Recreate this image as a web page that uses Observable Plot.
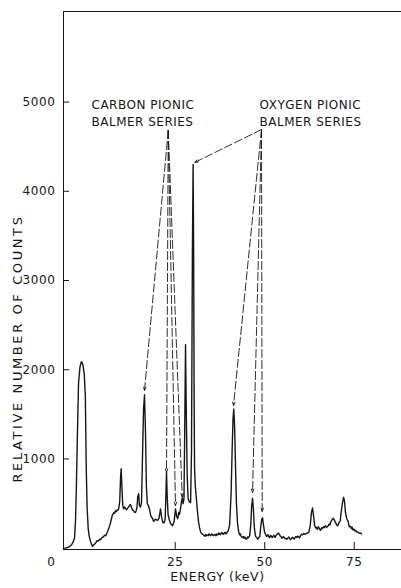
<!DOCTYPE html>
<html><head><meta charset="utf-8">
<script src="https://cdn.jsdelivr.net/npm/d3@7"></script>
<script src="https://cdn.jsdelivr.net/npm/@observablehq/plot@0.6"></script>
<style>
html,body{margin:0;padding:0;background:#fff;}
#chart svg{display:block;}
#chart [aria-label="y-axis tick label"] text,
#chart [aria-label="x-axis tick label"] text{letter-spacing:0.6px;}
#chart .series-label text{letter-spacing:0.5px;}
#chart .ytitle text{letter-spacing:2.6px;}
#chart .xtitle text{letter-spacing:0.6px;}
</style></head><body><div id="chart"></div>
<script>
// Spectrum: energy (keV) and relative number of counts
const energy = [
-6.2,-5.5,-5.0,-4.5,-4.0,-3.5,-3.1,-2.85,-2.6,-2.3,-2.0,-1.6,-1.2,-0.8,-0.4,-0.1,0.15,0.4,0.7,1.0,1.4,1.9,
2.2,2.5,2.8,3.2,3.5,3.9,4.2,4.6,4.9,5.3,5.6,6.0,6.5,6.93,7.2,7.4,7.9,8.1,8.3,8.6,8.8,9.0,9.2,9.5,9.75,9.9,10.1,10.35,10.6,10.85,11.1,11.35,11.6,11.85,12.1,12.5,12.9,13.1,13.35,13.6,13.9,14.1,14.3,14.55,14.8,15.0,15.3,15.6,15.85,16.15,16.42,16.7,16.95,17.2,17.55,17.9,18.2,18.45,18.7,18.95,19.2,19.45,19.7,20.1,20.5,20.9,21.2,21.5,21.9,22.2,22.4,22.57,22.75,23.0,23.2,23.4,23.6,23.8,24.0,24.25,24.7,25.08,25.4,25.7,26.0,26.2,26.4,26.75,26.96,27.2,27.45,27.65,27.88,28.1,28.35,28.6,28.9,29.3,29.55,29.8,30.0,30.15,30.28,30.4,30.6,30.9,31.2,31.5,31.8,32.1,32.5,
32.8,33.0,33.2,33.4,33.6,33.8,34.0,34.2,34.4,34.6,34.8,35.0,35.2,35.4,35.6,35.8,36.0,36.2,36.4,36.6,36.8,37.0,37.2,37.4,37.6,37.8,38.0,38.2,38.4,38.6,38.8,39.0,39.2,39.4,39.6,39.8,40.2,40.6,40.9,41.15,41.35,41.6,41.85,42.1,42.4,42.7,43.0,43.2,43.4,43.6,43.8,44.0,44.2,44.4,44.6,44.8,45.0,45.2,45.4,45.8,46.1,46.35,46.6,46.85,47.1,47.4,47.6,47.8,48.0,48.2,48.6,48.9,49.15,49.4,49.65,49.95,50.3,50.5,50.7,50.9,51.1,51.3,51.5,51.7,51.9,52.1,52.3,52.5,52.7,52.9,53.1,53.3,53.5,53.85,54.2,54.4,54.6,54.8,55.0,55.2,55.5,55.7,56.0,56.2,56.5,56.7,57.0,57.2,57.5,57.7,58.0,58.2,58.5,58.7,59.0,59.2,59.5,59.7,60.0,60.3,60.6,60.9,61.2,61.5,61.8,62.1,62.3,62.7,63.05,63.35,63.65,63.95,64.3,64.5,64.7,65.0,65.3,65.5,65.7,65.9,66.1,66.4,66.6,66.8,67.0,67.2,67.5,67.8,68.0,68.2,68.4,68.8,69.2,69.6,70.0,70.2,70.4,70.6,70.8,71.1,71.4,71.8,72.05,72.3,72.55,72.9,73.3,73.6,74.0,74.2,74.4,74.6,74.9,75.1,75.4,75.6,75.9,76.1,76.4,76.6,76.8,77.0,77.2
];
const counts = [
0,2,8,20,35,70,120,300,700,1300,1850,2030,2090,2060,1950,1700,900,450,220,130,70,20,
35,45,60,85,80,100,95,120,125,145,140,175,230,285,330,365,400,390,420,410,430,425,440,520,800,890,700,480,440,460,450,430,440,455,470,490,440,425,420,405,400,420,450,580,610,480,460,520,1000,1550,1720,1300,700,500,475,420,360,345,330,300,310,325,320,310,340,440,350,290,285,330,600,850,600,380,340,310,290,270,265,250,300,440,360,330,400,380,420,520,560,500,560,1300,2280,1500,800,560,520,510,1100,3300,4300,3300,1700,900,700,560,420,300,230,180,160,
150,145,135,150,135,150,145,140,160,155,140,145,160,150,140,140,155,155,140,160,150,150,170,165,150,160,175,170,155,160,175,175,160,170,185,190,260,600,1100,1450,1560,1350,900,500,280,190,150,160,135,125,120,130,110,125,115,100,105,125,115,140,260,470,560,430,230,140,125,120,100,110,130,240,320,340,260,180,150,130,140,150,130,120,135,145,125,120,130,145,135,120,140,150,155,170,145,135,125,110,120,130,115,105,110,100,115,125,105,95,110,120,115,100,120,130,120,135,125,115,140,155,150,165,155,160,165,175,175,250,400,450,360,250,225,235,210,240,220,200,205,230,220,240,230,245,250,235,240,255,270,260,290,320,335,300,270,255,250,270,290,310,420,530,570,520,400,330,300,240,245,220,235,205,215,195,200,180,185,175,170,165,170,160
];

// Axes
const xDomain = [-6.2, 88.2];
const yDomain = [-15, 6015];
const xTicks = [25, 50, 75];
const yTicks = [1000, 2000, 3000, 4000, 5000];
const yZeroTick = [0];

// Annotations
const seriesLabels = ["CARBON PIONIC\nBALMER SERIES", "OXYGEN PIONIC\nBALMER SERIES"];
const labelEnergy = [1.62, 48.55];
const labelCounts = [4890, 4890];
const apexEnergy = [23.05, 49.1];
const apexCounts = [4681, 4692];
const carbonLineEnergy = [16.42, 22.57, 25.08, 26.96];
const carbonLineCounts = [1767, 851, 478, 571];
const oxygenLineEnergy = [30.45, 41.28, 46.6, 49.3];
const oxygenLineCounts = [4323, 1599, 624, 411];
const xTitle = ["ENERGY (keV)"];
const yTitle = ["RELATIVE NUMBER OF COUNTS"];

const spectrum = energy.map((e, i) => ({energy: e, count: counts[i]}));
const arrows = [
  ...carbonLineEnergy.map((e, i) => ({x1: apexEnergy[0], y1: apexCounts[0], x2: e, y2: carbonLineCounts[i]})),
  ...oxygenLineEnergy.map((e, i) => ({x1: apexEnergy[1], y1: apexCounts[1], x2: e, y2: oxygenLineCounts[i]}))
];
const labels = seriesLabels.map((t, i) => ({text: t, energy: labelEnergy[i], count: labelCounts[i]}));

const ink = "#161616";
const chart = Plot.plot({
  width: 401,
  height: 588,
  marginTop: 11,
  marginBottom: 39,
  marginLeft: 63,
  marginRight: 0,
  style: {fontFamily: "'DejaVu Sans', sans-serif", fontSize: "12px", color: ink, background: "#fff"},
  x: {domain: xDomain},
  y: {domain: yDomain},
  marks: [
    Plot.ruleX(xDomain.slice(0, 1), {stroke: ink, strokeWidth: 1}),
    Plot.ruleY(yDomain, {stroke: ink, strokeWidth: 1}),
    Plot.axisY(yTicks, {tickSize: 6, insetLeft: 6, tickPadding: 8, tickFormat: d => String(d), label: null, fontSize: 12, stroke: ink}),
    Plot.axisY(yZeroTick, {tickSize: 0, tickPadding: 8, dy: 14, tickFormat: d => String(d), label: null, fontSize: 12}),
    Plot.axisX(xTicks, {tickSize: 7, insetBottom: 7, tickPadding: 8, tickFormat: d => String(d), label: null, fontSize: 12, stroke: ink}),
    Plot.line(spectrum, {x: "energy", y: "count", stroke: ink, strokeWidth: 1.4}),
    Plot.arrow(arrows, {x1: "x1", y1: "y1", x2: "x2", y2: "y2", stroke: ink, strokeWidth: 0.9, strokeDasharray: "8,3", headLength: 6, headAngle: 40}),
    Plot.text(labels, {x: "energy", y: "count", text: "text", textAnchor: "start", lineAnchor: "middle", lineHeight: 1.42, fontSize: 12, fill: ink, className: "series-label"}),
    Plot.text(yTitle, {frameAnchor: "left", textAnchor: "middle", rotate: -90, dx: -46, dy: 68, fontSize: 13, fill: ink, className: "ytitle"}),
    Plot.text(xTitle, {frameAnchor: "bottom", dx: -15, dy: 31, fontSize: 12.5, fill: ink, className: "xtitle"})
  ]
});
document.getElementById("chart").appendChild(chart);
</script></body></html>
